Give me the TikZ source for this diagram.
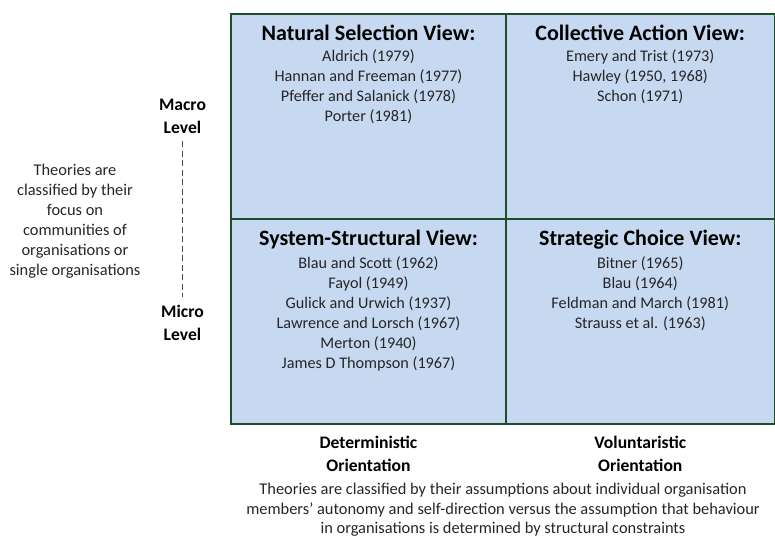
\documentclass[tikz,border=0pt]{standalone}
\usepackage{fontspec}
\setmainfont{Carlito}
\usetikzlibrary{positioning}
\definecolor{cellfill}{HTML}{C6D9F1}
\definecolor{celledge}{HTML}{1E4D2B}
\tikzset{
  cell/.style={draw=celledge, fill=cellfill, line width=1.2pt, minimum height=205pt, inner sep=0pt},
  head/.style={font=\fontsize{22}{26}\selectfont\bfseries, inner sep=0pt},
  refs/.style={font=\fontsize{16.2}{20}\selectfont, align=center, anchor=north, inner sep=0pt, text=black!85},
  axis/.style={font=\fontsize{17.6}{23}\selectfont\bfseries, align=center, inner sep=0pt},
  note/.style={font=\fontsize{16.4}{19.5}\selectfont, align=center, inner sep=0pt, text=black!85}
}
\begin{document}
\begin{tikzpicture}[x=1pt,y=-1pt]
  \useasboundingbox (0,0) rectangle (775,538);
  % the four views
  \node[cell, minimum width=275pt] (ns) at (368.5,116.5) {};
  \node[cell, minimum width=268.5pt] (ca) at (640.25,116.5) {};
  \node[cell, minimum width=275pt] (ss) at (368.5,321.5) {};
  \node[cell, minimum width=268.5pt] (sc) at (640.25,321.5) {};

  \node[head] (nsh) at (368.5,33) {Natural Selection View:};
  \node[refs] (nsr) at (368.5,49) {Aldrich (1979)\\Hannan and Freeman (1977)\\Pfeffer and Salanick (1978)\\Porter (1981)};
  \node[head] (cah) at (640.25,33) {Collective Action View:};
  \node[refs] (car) at (640.25,49) {Emery and Trist (1973)\\Hawley (1950, 1968)\\Schon (1971)};
  \node[head] (ssh) at (368.5,240) {System-Structural View:};
  \node[refs] (ssr) at (368.5,256) {Blau and Scott (1962)\\Fayol (1949)\\Gulick and Urwich (1937)\\Lawrence and Lorsch (1967)\\Merton (1940)\\James D Thompson (1967)};
  \node[head] (sch) at (640.25,240) {Strategic Choice View:};
  \node[refs] (scr) at (640.25,256) {Bitner (1965)\\Blau (1964)\\Feldman and March (1981)\\Strauss et al. (1963)};

  % level axis
  \node[axis] (macro) at (182.5,116) {Macro\\Level};
  \node[axis] (micro) at (182.5,323) {Micro\\Level};
  \draw[black!70, dash pattern=on 6pt off 3.5pt] ([yshift=-8pt]macro.south) -- ([yshift=8pt]micro.north);
  \node[note, font=\fontsize{16.4}{20}\selectfont] (focus) at (75,221) {Theories are\\classified by their\\focus on\\communities of\\organisations or\\single organisations};

  % orientation axis
  \node[axis] (det) at (368.5,454) {Deterministic\\Orientation};
  \node[axis] (vol) at (640.25,454) {Voluntaristic\\Orientation};
  \node[note] (assume) at (503,510) {Theories are classified by their assumptions about individual organisation\\members’ autonomy and self-direction versus the assumption that behaviour\\in organisations is determined by structural constraints};
\end{tikzpicture}
\end{document}
